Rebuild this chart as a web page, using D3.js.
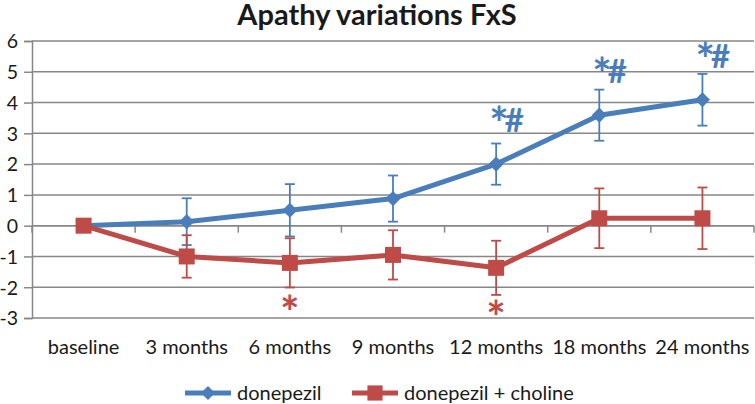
<!DOCTYPE html>
<html>
<head>
<meta charset="utf-8">
<script src="https://cdn.jsdelivr.net/npm/d3@7"></script>
<style>
  html, body { margin: 0; padding: 0; background: #fff; }
  svg { display: block; font-family: Lato, "Open Sans", sans-serif; }
</style>
</head>
<body>
<svg id="chart" width="755" height="404"></svg>
<script>
const categories = ["baseline", "3 months", "6 months", "9 months", "12 months", "18 months", "24 months"];
const donepezil = [0, 0.13, 0.50, 0.88, 2.00, 3.59, 4.09];
const donepezilErr = [0, 0.76, 0.85, 0.75, 0.67, 0.83, 0.84];
const choline = [0, -1.00, -1.21, -0.95, -1.37, 0.24, 0.24];
const cholineErr = [0, 0.69, 0.80, 0.80, 0.88, 0.97, 1.00];
const donepezilMarks = ["", "", "", "", "*#", "*#", "*#"];
const cholineMarks = ["", "", "*", "", "*", "", ""];
const yTicks = [-3, -2, -1, 0, 1, 2, 3, 4, 5, 6];
const seriesNames = ["donepezil", "donepezil + choline"];
const title = "Apathy variations FxS";

const BLUE = "#4a7ebb", RED = "#be4b48", GRID = "#878787", TXT = "#1a1a1a";
const svg = d3.select("#chart");

const x = d3.scaleBand().domain(categories).range([32, 754]);
const y = d3.scaleLinear().domain([-3, 6]).range([318, 41]);
const cx = c => x(c) + x.bandwidth() / 2;

// title
svg.append("text").attr("x", 377).attr("y", 25).attr("text-anchor", "middle")
  .attr("font-weight", "bold").attr("font-size", 29).attr("fill", TXT).text(title);

// gridlines
svg.append("g").selectAll("line").data(yTicks).join("line")
  .attr("x1", 32).attr("x2", 754).attr("y1", d => y(d)).attr("y2", d => y(d))
  .attr("stroke", GRID).attr("stroke-width", 1.5);

// y axis
const yAxis = d3.axisLeft(y).tickValues(yTicks).tickSize(8).tickFormat(d => String(d));
const gy = svg.append("g").attr("transform", "translate(32,0)").call(yAxis);
gy.select(".domain").attr("stroke", GRID).attr("stroke-width", 1.5);
gy.selectAll(".tick line").attr("stroke", GRID).attr("stroke-width", 1.5);
gy.selectAll(".tick text").attr("font-size", 19.5).attr("fill", TXT)
  .attr("font-family", "Lato, sans-serif").attr("x", -14).attr("dy", "0.35em");

// x axis at 0 with tick marks at band boundaries
const gx = svg.append("g").attr("transform", `translate(0,${y(0)})`);
gx.append("line").attr("x1", 32).attr("x2", 754).attr("stroke", GRID).attr("stroke-width", 1.5);
const bounds = categories.map(c => x(c)).concat([x.range()[1]]);
gx.selectAll("line.t").data(bounds).join("line").attr("class", "t")
  .attr("x1", d => d).attr("x2", d => d).attr("y1", 0).attr("y2", 7)
  .attr("stroke", GRID).attr("stroke-width", 1.5);

// x labels at bottom
const xAxis = d3.axisBottom(x).tickSize(0).tickPadding(0);
const gxl = svg.append("g").attr("transform", "translate(0,354)").call(xAxis);
gxl.select(".domain").remove();
gxl.selectAll(".tick text").attr("font-size", 20).attr("fill", TXT)
  .attr("font-family", "Lato, sans-serif").attr("dy", 0).attr("y", 0);

function drawMark(g, px, py, m, color, above) {
  const t = g.append("text").attr("font-weight", "bold").attr("fill", color);
  if (above) {
    t.attr("x", px - 7).attr("y", py - 24);
    t.append("tspan").attr("font-size", 46).attr("letter-spacing", -4).text(m[0]);
    t.append("tspan").attr("dy", -8).attr("font-size", 33).text(m.slice(1));
  } else {
    t.attr("text-anchor", "middle").attr("x", px).attr("y", py + 66)
      .attr("font-size", 46).text(m);
  }
}

function drawSeries(vals, errs, color, square, marks, markAbove) {
  const g = svg.append("g");
  const pts = categories.map((c, i) => ({ c, v: vals[i], e: errs[i], m: marks[i] }));
  const eb = g.selectAll("g.eb").data(pts.filter(p => p.e > 0)).join("g");
  eb.append("line").attr("x1", p => cx(p.c)).attr("x2", p => cx(p.c))
    .attr("y1", p => y(p.v + p.e)).attr("y2", p => y(p.v - p.e)).attr("stroke", color).attr("stroke-width", 1.8);
  [1, -1].forEach(s => {
    eb.append("line").attr("x1", p => cx(p.c) - 5).attr("x2", p => cx(p.c) + 5)
      .attr("y1", p => y(p.v + s * p.e)).attr("y2", p => y(p.v + s * p.e)).attr("stroke", color).attr("stroke-width", 1.8);
  });
  g.append("path").datum(pts).attr("fill", "none").attr("stroke", color).attr("stroke-width", 5)
    .attr("stroke-linejoin", "round")
    .attr("d", d3.line().x(p => cx(p.c)).y(p => y(p.v)));
  const sym = square ? d3.symbol().type(d3.symbolSquare).size(256)
                     : d3.symbol().type(d3.symbolSquare).size(115);
  g.selectAll("path.m").data(pts).join("path").attr("class", "m")
    .attr("transform", p => `translate(${cx(p.c)},${y(p.v)})` + (square ? "" : " rotate(45)"))
    .attr("d", sym()).attr("fill", color);
  pts.filter(p => p.m).forEach(p => drawMark(g, cx(p.c), y(p.v), p.m, color, markAbove));
}
drawSeries(donepezil, donepezilErr, BLUE, false, donepezilMarks, true);
drawSeries(choline, cholineErr, RED, true, cholineMarks, false);

// legend
const legend = [
  { name: seriesNames[0], color: BLUE, square: false, x0: 185 },
  { name: seriesNames[1], color: RED, square: true, x0: 352 }
];
const lg = svg.append("g").attr("transform", "translate(0,393)");
legend.forEach(l => {
  lg.append("line").attr("x1", l.x0).attr("x2", l.x0 + 46).attr("stroke", l.color).attr("stroke-width", 5);
  lg.append("path").attr("d", d3.symbol().type(d3.symbolSquare).size(l.square ? 230 : 100)())
    .attr("transform", `translate(${l.x0 + 23},0)` + (l.square ? "" : " rotate(45)")).attr("fill", l.color);
  lg.append("text").attr("x", l.x0 + 52).attr("y", 7).attr("font-size", 20).attr("fill", TXT).text(l.name);
});
</script>
</body>
</html>
